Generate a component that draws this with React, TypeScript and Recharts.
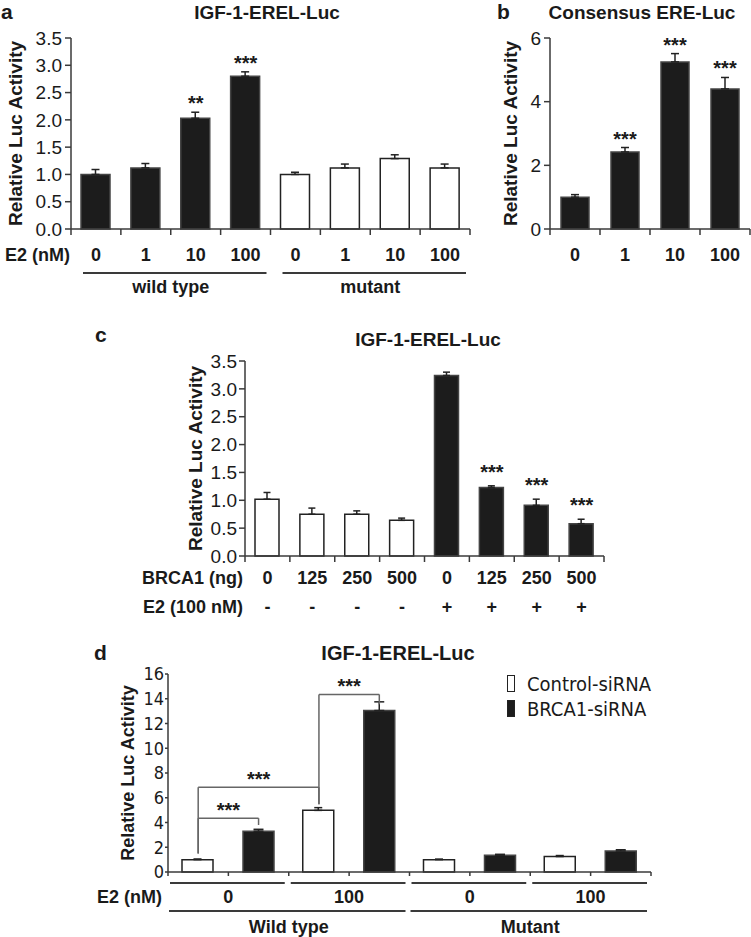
import React from "react";
import {
  ComposedChart,
  Bar,
  Cell,
  XAxis,
  YAxis,
  ErrorBar,
  Scatter,
  ReferenceLine,
  Legend,
} from "recharts";

const SANS = '"Liberation Sans", Arial, Helvetica, sans-serif';
const NARROW = '"Liberation Sans Narrow", "Arial Narrow", "DejaVu Sans Condensed", sans-serif';
const INK = "#1a1a1a";
const AXIS = "#3a3a3a";
const BLACK = "#1c1c1c";

// a: IGF-1-EREL-Luc, wild type vs mutant promoter
const aDose = ["0", "1", "10", "100", "0", "1", "10", "100"];
const aGenotype = ["wild type", "wild type", "wild type", "wild type", "mutant", "mutant", "mutant", "mutant"];
const aMean = [1.0, 1.12, 2.03, 2.8, 1.0, 1.12, 1.29, 1.12];
const aErr = [0.09, 0.08, 0.11, 0.08, 0.04, 0.07, 0.07, 0.07];
const aSig = ["", "", "**", "***", "", "", "", ""];
const aYTicks = [0, 0.5, 1, 1.5, 2, 2.5, 3, 3.5];

// b: Consensus ERE-Luc
const bDose = ["0", "1", "10", "100"];
const bMean = [1.0, 2.42, 5.25, 4.4];
const bErr = [0.08, 0.14, 0.26, 0.36];
const bSig = ["", "***", "***", "***"];
const bYTicks = [0, 2, 4, 6];

// c: BRCA1 titration with / without E2
const cBrca1 = ["0", "125", "250", "500", "0", "125", "250", "500"];
const cE2 = ["-", "-", "-", "-", "+", "+", "+", "+"];
const cMean = [1.02, 0.75, 0.75, 0.64, 3.24, 1.23, 0.91, 0.58];
const cErr = [0.12, 0.11, 0.06, 0.04, 0.06, 0.03, 0.11, 0.08];
const cSig = ["", "", "", "", "", "***", "***", "***"];
const cYTicks = [0, 0.5, 1, 1.5, 2, 2.5, 3, 3.5];

// d: siRNA knockdown
const dSeries = ["Control-siRNA", "BRCA1-siRNA"];
const dE2 = ["0", "100", "0", "100"];
const dGenotype = ["Wild type", "Wild type", "Mutant", "Mutant"];
const dControl = [1.0, 4.98, 1.0, 1.25];
const dControlErr = [0.05, 0.22, 0.04, 0.08];
const dBrca1 = [3.3, 13.05, 1.35, 1.7];
const dBrca1Err = [0.15, 0.7, 0.08, 0.1];
const dYTicks = [0, 2, 4, 6, 8, 10, 12, 14, 16];
// slots: 0 = WT ctrl E2 0, 1 = WT BRCA1 E2 0, 2 = WT ctrl E2 100, 3 = WT BRCA1 E2 100
const dBrackets = [
  { from: 0, to: 1, level: 4.35 },
  { from: 0, to: 2, level: 6.85 },
  { from: 2, to: 3, level: 14.35 },
];

function AxisTick(props: any) {
  const {
    x,
    y,
    payload,
    index,
    count = 0,
    tickLen = 0,
    midTick = false,
    labelDy = 30,
    fontSize = 18,
    fontWeight = 700,
    fontFamily = SANS,
    rowLabel,
    rowGap = 2,
    lineDy,
    insetL = 0,
    insetR = 0,
  } = props;
  const half = typeof payload?.offset === "number" ? payload.offset : 0;
  const left = x - half;
  const right = x + half;
  const tickLine = (tx: number) => (
    <line x1={tx} x2={tx} y1={y} y2={y + tickLen} stroke={AXIS} strokeWidth={1.5} />
  );
  return (
    <g>
      {tickLen > 0 && tickLine(left)}
      {tickLen > 0 && midTick && tickLine(x)}
      {tickLen > 0 && index === count - 1 && tickLine(right)}
      {lineDy != null && (
        <line x1={left + insetL} x2={right - insetR} y1={y + lineDy} y2={y + lineDy} stroke={AXIS} strokeWidth={2} />
      )}
      <text x={x} y={y + labelDy} textAnchor="middle" fontSize={fontSize} fontWeight={fontWeight} fontFamily={fontFamily} fill={INK}>
        {payload.value}
      </text>
      {index === 0 && rowLabel && (
        <text x={left - rowGap} y={y + labelDy} textAnchor="end" fontSize={fontSize} fontWeight={fontWeight} fontFamily={fontFamily} fill={INK}>
          {rowLabel}
        </text>
      )}
    </g>
  );
}

const starShape = (lift: number) => (p: any) =>
  p?.payload?.sig ? (
    <text x={p.cx} y={p.cy - lift} textAnchor="middle" fontSize={20} fontWeight={700} fontFamily={SANS} fill={INK}>
      {p.payload.sig}
    </text>
  ) : (
    <g />
  );

const yLabel = (offset: number, fontSize = 19) => ({
  value: "Relative Luc Activity",
  angle: -90,
  position: "insideLeft" as const,
  offset,
  style: { textAnchor: "middle", fontSize, fontWeight: 700, fontFamily: SANS, fill: INK },
});

const axisLine = { stroke: AXIS, strokeWidth: 1.5 };
const yTick = { fontSize: 19, fill: INK, fontFamily: SANS };

function PanelA() {
  const rows = aDose.map((dose, i) => ({
    dose,
    genotype: aGenotype[i],
    mean: aMean[i],
    errRange: [0, aErr[i]],
    sig: aSig[i],
    starY: aMean[i] + aErr[i],
  }));
  return (
    <div style={{ position: "absolute", left: 0, top: 0 }}>
      <ComposedChart width={480} height={300} data={rows} margin={{ top: 38, right: 10, bottom: 1, left: 0 }}>
        <XAxis
          dataKey="dose"
          height={40}
          interval={0}
          tickSize={0}
          tickMargin={0}
          tickLine={false}
          axisLine={axisLine}
          tick={<AxisTick count={rows.length} tickLen={6} labelDy={32} rowLabel="E2 (nM)" rowGap={1} />}
        />
        <XAxis
          xAxisId="geno"
          dataKey="genotype"
          allowDuplicatedCategory={false}
          height={30}
          interval={0}
          tickSize={0}
          tickMargin={0}
          tickLine={false}
          axisLine={false}
          tick={<AxisTick lineDy={4} insetL={12} insetR={4} labelDy={24} />}
        />
        <YAxis
          domain={[0, 3.5]}
          ticks={aYTicks}
          interval={0}
          width={71}
          tickSize={6}
          tickMargin={3}
          tickFormatter={(v: number) => v.toFixed(1)}
          tick={yTick}
          axisLine={axisLine}
          tickLine={{ stroke: AXIS, strokeWidth: 1.5 }}
          label={yLabel(15)}
        />
        <Bar dataKey="mean" barSize={29} isAnimationActive={false}>
          {rows.map((r, i) => (
            <Cell
              key={i}
              fill={r.genotype === "wild type" ? BLACK : "#ffffff"}
              stroke={r.genotype === "wild type" ? "#444" : "#222"}
              strokeWidth={1.5}
            />
          ))}
          <ErrorBar dataKey="errRange" width={4} stroke="#222" strokeWidth={1.5} direction="y" />
        </Bar>
        <Scatter dataKey="starY" shape={starShape(2)} isAnimationActive={false} />
      </ComposedChart>
    </div>
  );
}

function PanelB() {
  const rows = bDose.map((dose, i) => ({
    dose,
    mean: bMean[i],
    errRange: [0, bErr[i]],
    sig: bSig[i],
    starY: bMean[i] + bErr[i],
  }));
  return (
    <div style={{ position: "absolute", left: 480, top: 0 }}>
      <ComposedChart width={271} height={300} data={rows} margin={{ top: 38, right: 1, bottom: 31, left: 0 }}>
        <XAxis
          dataKey="dose"
          height={40}
          interval={0}
          tickSize={0}
          tickMargin={0}
          tickLine={false}
          axisLine={axisLine}
          tick={<AxisTick count={rows.length} tickLen={6} labelDy={32} />}
        />
        <YAxis
          domain={[0, 6]}
          ticks={bYTicks}
          interval={0}
          width={70}
          tickSize={6}
          tickMargin={3}
          tick={yTick}
          axisLine={axisLine}
          tickLine={{ stroke: AXIS, strokeWidth: 1.5 }}
          label={yLabel(30)}
        />
        <Bar dataKey="mean" barSize={28} fill={BLACK} stroke="#444" strokeWidth={1.5} isAnimationActive={false}>
          <ErrorBar dataKey="errRange" width={4} stroke="#222" strokeWidth={1.5} direction="y" />
        </Bar>
        <Scatter dataKey="starY" shape={starShape(2)} isAnimationActive={false} />
      </ComposedChart>
    </div>
  );
}

function PanelC() {
  const rows = cBrca1.map((brca1, i) => ({
    brca1,
    e2: cE2[i],
    mean: cMean[i],
    errRange: [0, cErr[i]],
    sig: cSig[i],
    starY: cMean[i] + cErr[i],
  }));
  return (
    <div style={{ position: "absolute", left: 0, top: 300 }}>
      <ComposedChart width={620} height={320} data={rows} margin={{ top: 61, right: 16, bottom: 2, left: 0 }}>
        <XAxis
          dataKey="brca1"
          height={32}
          interval={0}
          tickSize={0}
          tickMargin={0}
          tickLine={false}
          axisLine={axisLine}
          tick={<AxisTick count={rows.length} tickLen={6} labelDy={28} rowLabel="BRCA1 (ng)" rowGap={2} />}
        />
        <XAxis
          xAxisId="e2"
          dataKey="e2"
          height={30}
          interval={0}
          tickSize={0}
          tickMargin={0}
          tickLine={false}
          axisLine={false}
          tick={<AxisTick labelDy={25} rowLabel="E2 (100 nM)" rowGap={2} />}
        />
        <YAxis
          domain={[0, 3.5]}
          ticks={cYTicks}
          interval={0}
          width={245}
          tickSize={6}
          tickMargin={2}
          tickFormatter={(v: number) => v.toFixed(1)}
          tick={yTick}
          axisLine={axisLine}
          tickLine={{ stroke: AXIS, strokeWidth: 1.5 }}
          label={yLabel(195)}
        />
        <Bar dataKey="mean" barSize={24} isAnimationActive={false}>
          {rows.map((r, i) => (
            <Cell
              key={i}
              fill={r.e2 === "+" ? BLACK : "#ffffff"}
              stroke={r.e2 === "+" ? "#444" : "#222"}
              strokeWidth={1.5}
            />
          ))}
          <ErrorBar dataKey="errRange" width={3.5} stroke="#222" strokeWidth={1.5} direction="y" />
        </Bar>
        <Scatter dataKey="starY" shape={starShape(7)} isAnimationActive={false} />
      </ComposedChart>
    </div>
  );
}

function DLegend(props: any) {
  const items = [...(props.payload ?? [])].sort(
    (p: any, q: any) => dSeries.indexOf(p.value) - dSeries.indexOf(q.value)
  );
  return (
    <div style={{ display: "flex", flexDirection: "column", gap: 4 }}>
      {items.map((it: any) => (
        <div
          key={it.value}
          style={{ display: "flex", alignItems: "center", height: 21, fontFamily: NARROW, fontSize: 20, color: INK, whiteSpace: "nowrap" }}
        >
          <span
            style={{
              display: "inline-block",
              width: 8,
              height: 17,
              background: it.color,
              border: "1.5px solid #222",
              boxSizing: "border-box",
              marginRight: 12,
            }}
          />
          {it.value}
        </div>
      ))}
    </div>
  );
}

function PanelD() {
  const rows = dE2.map((e2, i) => ({
    e2,
    genotype: dGenotype[i],
    slotStart: i * 2,
    control: dControl[i],
    controlErr: [0, dControlErr[i]],
    brca1: dBrca1[i],
    brca1Err: [0, dBrca1Err[i]],
  }));
  const slotMean = (s: number) => (s % 2 === 0 ? dControl[Math.floor(s / 2)] : dBrca1[Math.floor(s / 2)]);
  const bracketStroke = { stroke: "#666", strokeWidth: 1.5 };
  return (
    <div style={{ position: "absolute", left: 90, top: 630 }}>
      <ComposedChart width={571} height={307} data={rows} margin={{ top: 44, right: 10, bottom: 1, left: 0 }} barGap={30}>
        <XAxis
          dataKey="e2"
          height={32}
          interval={0}
          tickSize={0}
          tickMargin={0}
          tickLine={false}
          axisLine={axisLine}
          tick={
            <AxisTick
              count={rows.length}
              tickLen={4}
              midTick
              lineDy={11}
              insetL={2}
              insetR={4}
              labelDy={31}
              rowLabel="E2 (nM)"
              rowGap={6}
            />
          }
        />
        <XAxis
          xAxisId="geno"
          dataKey="genotype"
          allowDuplicatedCategory={false}
          height={32}
          interval={0}
          tickSize={0}
          tickMargin={0}
          tickLine={false}
          axisLine={false}
          tick={<AxisTick lineDy={7} insetL={1} insetR={4} labelDy={29} />}
        />
        <XAxis xAxisId="slot" dataKey="slotStart" type="number" domain={[0, 8]} allowDataOverflow hide />
        <YAxis
          domain={[0, 16]}
          ticks={dYTicks}
          interval={0}
          width={78}
          tickSize={3}
          tickMargin={1}
          tick={{ fontSize: 18, fill: INK, fontFamily: NARROW }}
          axisLine={axisLine}
          tickLine={{ stroke: AXIS, strokeWidth: 1.5 }}
          label={yLabel(38, 18)}
        />
        <Legend
          layout="vertical"
          align="center"
          verticalAlign="middle"
          wrapperStyle={{ left: 417, top: 43, width: 150 }}
          content={<DLegend />}
        />
        <Bar dataKey="control" name={dSeries[0]} barSize={31} fill="#ffffff" stroke="#222" strokeWidth={1.5} isAnimationActive={false}>
          <ErrorBar dataKey="controlErr" width={4} stroke="#222" strokeWidth={1.5} direction="y" />
        </Bar>
        <Bar dataKey="brca1" name={dSeries[1]} barSize={31} fill={BLACK} stroke="#444" strokeWidth={1.5} isAnimationActive={false}>
          <ErrorBar dataKey="brca1Err" width={5} stroke="#222" strokeWidth={1.5} direction="y" />
        </Bar>
        {dBrackets.map((b, i) => (
          <ReferenceLine
            key={`top${i}`}
            xAxisId="slot"
            segment={[
              { x: b.from + 0.5, y: b.level },
              { x: b.to + 0.5, y: b.level },
            ]}
            {...bracketStroke}
            label={{ value: "***", position: "top", offset: 1, fontSize: 20, fontWeight: 700, fontFamily: SANS, fill: INK }}
          />
        ))}
        {dBrackets.map((b, i) => (
          <ReferenceLine
            key={`l${i}`}
            xAxisId="slot"
            segment={[
              { x: b.from + 0.5, y: slotMean(b.from) + 0.5 },
              { x: b.from + 0.5, y: b.level },
            ]}
            {...bracketStroke}
          />
        ))}
        {dBrackets.map((b, i) => (
          <ReferenceLine
            key={`r${i}`}
            xAxisId="slot"
            segment={[
              { x: b.to + 0.5, y: slotMean(b.to) + 0.5 },
              { x: b.to + 0.5, y: b.level },
            ]}
            {...bracketStroke}
          />
        ))}
      </ComposedChart>
    </div>
  );
}

export default function App() {
  const letter = { fontSize: 21, fontWeight: 700, fontFamily: SANS, fill: INK };
  const title = { fontSize: 19, fontWeight: 700, fontFamily: SANS, fill: INK, textAnchor: "middle" as const };
  return (
    <div style={{ position: "absolute", left: 0, top: 0, width: 751, height: 937, background: "#fff", overflow: "hidden" }}>
      <PanelA />
      <PanelB />
      <PanelC />
      <PanelD />
      <svg width={751} height={937} style={{ position: "absolute", left: 0, top: 0, pointerEvents: "none" }}>
        <text x={1} y={19} {...letter}>a</text>
        <text x={267} y={19} {...title}>IGF-1-EREL-Luc</text>
        <text x={497} y={19} {...letter}>b</text>
        <text x={642} y={19} {...title}>Consensus ERE-Luc</text>
        <text x={95} y={342} {...letter}>c</text>
        <text x={428} y={346} {...title}>IGF-1-EREL-Luc</text>
        <text x={94} y={660} {...letter}>d</text>
        <text x={398} y={660} {...title} fontSize={20}>IGF-1-EREL-Luc</text>
      </svg>
    </div>
  );
}
